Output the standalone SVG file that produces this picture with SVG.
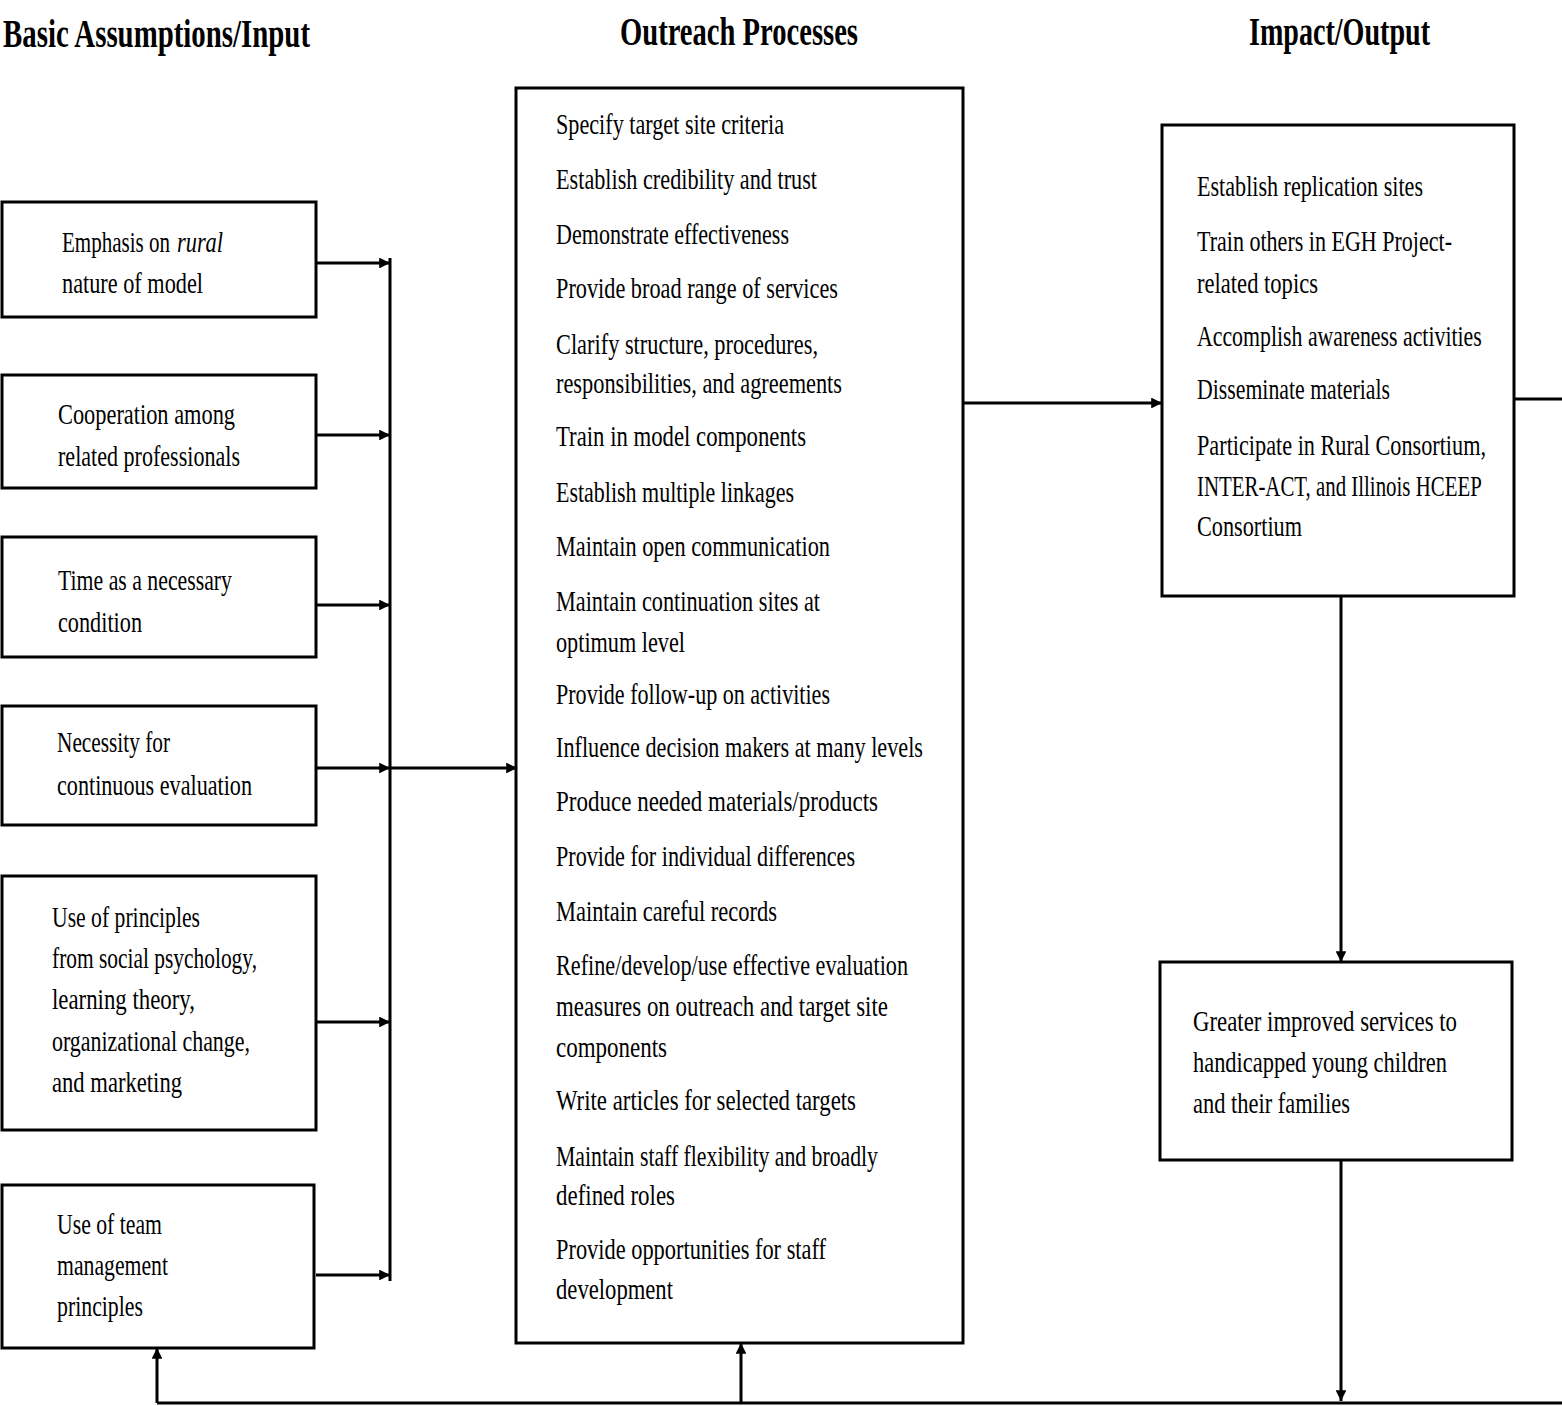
<svg xmlns="http://www.w3.org/2000/svg" width="1562" height="1406" viewBox="0 0 1562 1406">
<style>
.bg{fill:#fff}
.box{fill:#fff;stroke:#000;stroke-width:3}
.t{font-family:"Liberation Serif",serif;font-size:29px;fill:#000}
.h{font-family:"Liberation Serif",serif;font-size:40px;font-weight:bold;fill:#000}
.c{stroke:#000;stroke-width:3;fill:none}
</style>
<defs>
<marker id="ah" viewBox="0 0 10 10" refX="10" refY="5" markerWidth="4.5" markerHeight="3.6" markerUnits="strokeWidth" orient="auto">
<path d="M0,0 L10,5 L0,10 z" fill="#000"/>
</marker>
</defs>
<rect class="bg" x="0" y="0" width="1562" height="1406"/>

<g id="headers">
<text class="h" x="3" y="47" textLength="307" lengthAdjust="spacingAndGlyphs">Basic Assumptions/Input</text>
<text class="h" x="620" y="45" textLength="238" lengthAdjust="spacingAndGlyphs">Outreach Processes</text>
<text class="h" x="1249" y="45" textLength="181" lengthAdjust="spacingAndGlyphs">Impact/Output</text>
</g>

<g id="connectors">
<line class="c" x1="316" y1="263" x2="390" y2="263" marker-end="url(#ah)"/>
<line class="c" x1="316" y1="435" x2="390" y2="435" marker-end="url(#ah)"/>
<line class="c" x1="316" y1="605" x2="390" y2="605" marker-end="url(#ah)"/>
<line class="c" x1="316" y1="768" x2="390" y2="768" marker-end="url(#ah)"/>
<line class="c" x1="316" y1="1022" x2="390" y2="1022" marker-end="url(#ah)"/>
<line class="c" x1="316" y1="1275" x2="390" y2="1275" marker-end="url(#ah)"/>
<line class="c" x1="390" y1="258" x2="390" y2="1281"/>
<line class="c" x1="390" y1="768" x2="517" y2="768" marker-end="url(#ah)"/>
<line class="c" x1="963" y1="403" x2="1162" y2="403" marker-end="url(#ah)"/>
<line class="c" x1="1514" y1="399" x2="1562" y2="399"/>
<line class="c" x1="1341" y1="596" x2="1341" y2="962" marker-end="url(#ah)"/>
<line class="c" x1="1341" y1="1160" x2="1341" y2="1401" marker-end="url(#ah)"/>
<line class="c" x1="157" y1="1403" x2="1562" y2="1403"/>
<line class="c" x1="157" y1="1403" x2="157" y2="1348" marker-end="url(#ah)"/>
<line class="c" x1="741" y1="1403" x2="741" y2="1343" marker-end="url(#ah)"/>
</g>

<g id="in1">
<rect class="box" x="2" y="202" width="314" height="115"/>
<text class="t" transform="translate(62,252) scale(0.8,1)" x="0" y="0" textLength="135" lengthAdjust="spacingAndGlyphs">Emphasis on</text>
<text class="t" x="177" y="252" font-style="italic" textLength="46" lengthAdjust="spacingAndGlyphs">rural</text>
<text class="t" x="62" y="293" textLength="141" lengthAdjust="spacingAndGlyphs">nature of model</text>
</g>
<g id="in2">
<rect class="box" x="2" y="375" width="314" height="113"/>
<text class="t" x="58" y="424" textLength="177" lengthAdjust="spacingAndGlyphs">Cooperation among</text>
<text class="t" x="58" y="466" textLength="182" lengthAdjust="spacingAndGlyphs">related professionals</text>
</g>
<g id="in3">
<rect class="box" x="2" y="537" width="314" height="120"/>
<text class="t" x="58" y="590" textLength="174" lengthAdjust="spacingAndGlyphs">Time as a necessary</text>
<text class="t" x="58" y="632" textLength="84" lengthAdjust="spacingAndGlyphs">condition</text>
</g>
<g id="in4">
<rect class="box" x="2" y="706" width="314" height="119"/>
<text class="t" x="57" y="752" textLength="113" lengthAdjust="spacingAndGlyphs">Necessity for</text>
<text class="t" x="57" y="795" textLength="195" lengthAdjust="spacingAndGlyphs">continuous evaluation</text>
</g>
<g id="in5">
<rect class="box" x="2" y="876" width="314" height="254"/>
<text class="t" x="52" y="927" textLength="148" lengthAdjust="spacingAndGlyphs">Use of principles</text>
<text class="t" x="52" y="968" textLength="205" lengthAdjust="spacingAndGlyphs">from social psychology,</text>
<text class="t" x="52" y="1009" textLength="143" lengthAdjust="spacingAndGlyphs">learning theory,</text>
<text class="t" x="52" y="1051" textLength="198" lengthAdjust="spacingAndGlyphs">organizational change,</text>
<text class="t" x="52" y="1092" textLength="130" lengthAdjust="spacingAndGlyphs">and marketing</text>
</g>
<g id="in6">
<rect class="box" x="2" y="1185" width="312" height="163"/>
<text class="t" x="57" y="1234" textLength="105" lengthAdjust="spacingAndGlyphs">Use of team</text>
<text class="t" x="57" y="1275" textLength="111" lengthAdjust="spacingAndGlyphs">management</text>
<text class="t" x="57" y="1316" textLength="86" lengthAdjust="spacingAndGlyphs">principles</text>
</g>

<g id="processes">
<rect class="box" x="516" y="88" width="447" height="1255"/>
<text class="t" x="556" y="134" textLength="228" lengthAdjust="spacingAndGlyphs">Specify target site criteria</text>
<text class="t" x="556" y="189" textLength="261" lengthAdjust="spacingAndGlyphs">Establish credibility and trust</text>
<text class="t" x="556" y="244" textLength="233" lengthAdjust="spacingAndGlyphs">Demonstrate effectiveness</text>
<text class="t" x="556" y="298" textLength="282" lengthAdjust="spacingAndGlyphs">Provide broad range of services</text>
<text class="t" x="556" y="354" textLength="262" lengthAdjust="spacingAndGlyphs">Clarify structure, procedures,</text>
<text class="t" x="556" y="393" textLength="286" lengthAdjust="spacingAndGlyphs">responsibilities, and agreements</text>
<text class="t" x="556" y="446" textLength="250" lengthAdjust="spacingAndGlyphs">Train in model components</text>
<text class="t" x="556" y="502" textLength="238" lengthAdjust="spacingAndGlyphs">Establish multiple linkages</text>
<text class="t" x="556" y="556" textLength="274" lengthAdjust="spacingAndGlyphs">Maintain open communication</text>
<text class="t" x="556" y="611" textLength="264" lengthAdjust="spacingAndGlyphs">Maintain continuation sites at</text>
<text class="t" x="556" y="652" textLength="129" lengthAdjust="spacingAndGlyphs">optimum level</text>
<text class="t" x="556" y="704" textLength="274" lengthAdjust="spacingAndGlyphs">Provide follow-up on activities</text>
<text class="t" x="556" y="757" textLength="367" lengthAdjust="spacingAndGlyphs">Influence decision makers at many levels</text>
<text class="t" x="556" y="811" textLength="322" lengthAdjust="spacingAndGlyphs">Produce needed materials/products</text>
<text class="t" x="556" y="866" textLength="299" lengthAdjust="spacingAndGlyphs">Provide for individual differences</text>
<text class="t" x="556" y="921" textLength="221" lengthAdjust="spacingAndGlyphs">Maintain careful records</text>
<text class="t" x="556" y="975" textLength="352" lengthAdjust="spacingAndGlyphs">Refine/develop/use effective evaluation</text>
<text class="t" x="556" y="1016" textLength="332" lengthAdjust="spacingAndGlyphs">measures on outreach and target site</text>
<text class="t" x="556" y="1057" textLength="111" lengthAdjust="spacingAndGlyphs">components</text>
<text class="t" x="556" y="1110" textLength="300" lengthAdjust="spacingAndGlyphs">Write articles for selected targets</text>
<text class="t" x="556" y="1166" textLength="322" lengthAdjust="spacingAndGlyphs">Maintain staff flexibility and broadly</text>
<text class="t" x="556" y="1205" textLength="119" lengthAdjust="spacingAndGlyphs">defined roles</text>
<text class="t" x="556" y="1259" textLength="270" lengthAdjust="spacingAndGlyphs">Provide opportunities for staff</text>
<text class="t" x="556" y="1299" textLength="117" lengthAdjust="spacingAndGlyphs">development</text>
</g>

<g id="impact">
<rect class="box" x="1162" y="125" width="352" height="471"/>
<text class="t" x="1197" y="196" textLength="226" lengthAdjust="spacingAndGlyphs">Establish replication sites</text>
<text class="t" x="1197" y="251" textLength="255" lengthAdjust="spacingAndGlyphs">Train others in EGH Project-</text>
<text class="t" x="1197" y="293" textLength="121" lengthAdjust="spacingAndGlyphs">related topics</text>
<text class="t" transform="translate(1197,346) scale(0.85,1)" x="0" y="0" textLength="335" lengthAdjust="spacingAndGlyphs">Accomplish awareness activities</text>
<text class="t" x="1197" y="399" textLength="193" lengthAdjust="spacingAndGlyphs">Disseminate materials</text>
<text class="t" transform="translate(1197,455) scale(0.85,1)" x="0" y="0" textLength="340" lengthAdjust="spacingAndGlyphs">Participate in Rural Consortium,</text>
<text class="t" transform="translate(1197,496) scale(0.85,1)" x="0" y="0" textLength="335" lengthAdjust="spacingAndGlyphs">INTER-ACT, and Illinois HCEEP</text>
<text class="t" x="1197" y="536" textLength="105" lengthAdjust="spacingAndGlyphs">Consortium</text>
</g>

<g id="services">
<rect class="box" x="1160" y="962" width="352" height="198"/>
<text class="t" x="1193" y="1031" textLength="264" lengthAdjust="spacingAndGlyphs">Greater improved services to</text>
<text class="t" x="1193" y="1072" textLength="254" lengthAdjust="spacingAndGlyphs">handicapped young children</text>
<text class="t" x="1193" y="1113" textLength="157" lengthAdjust="spacingAndGlyphs">and their families</text>
</g>
</svg>
